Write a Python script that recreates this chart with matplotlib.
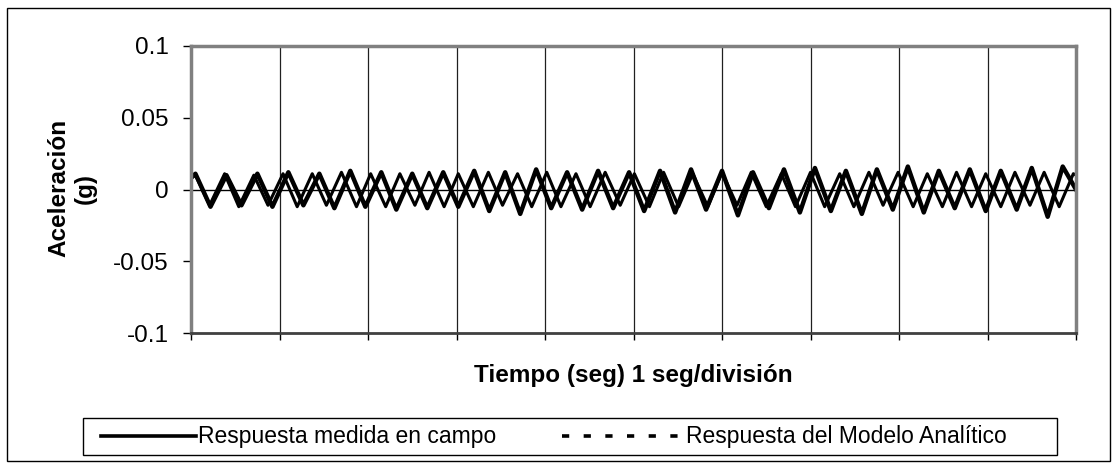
import numpy as np
import matplotlib.pyplot as plt
from matplotlib.lines import Line2D
from matplotlib.patches import Rectangle

plt.rcParams['font.family'] = ['Liberation Sans', 'DejaVu Sans']

# medida en campo: extremos (tiempo en s, aceleracion en g)
t_campo = [0.00, 0.05, 0.22, 0.40, 0.57, 0.75, 0.92, 1.10, 1.27, 1.45, 1.62, 1.80, 1.97,
           2.15, 2.32, 2.50, 2.67, 2.85, 3.02, 3.20, 3.37, 3.55, 3.72, 3.90, 4.07, 4.25,
           4.42, 4.60, 4.77, 4.95, 5.12, 5.30, 5.47, 5.65, 5.82, 6.00, 6.18, 6.35, 6.53,
           6.70, 6.88, 7.05, 7.23, 7.40, 7.58, 7.75, 7.93, 8.10, 8.28, 8.45, 8.63, 8.80,
           8.98, 9.15, 9.33, 9.50, 9.68, 9.85, 10.00]
a_campo = [0.008, 0.011, -0.012, 0.010, -0.011, 0.011, -0.012, 0.012, -0.011, 0.011, -0.013,
           0.013, -0.012, 0.012, -0.014, 0.011, -0.013, 0.012, -0.012, 0.013, -0.015,
           0.012, -0.017, 0.014, -0.013, 0.012, -0.014, 0.013, -0.013, 0.012, -0.015,
           0.013, -0.016, 0.014, -0.014, 0.013, -0.018, 0.012, -0.013, 0.014, -0.016,
           0.015, -0.015, 0.013, -0.017, 0.014, -0.014, 0.016, -0.016, 0.013, -0.013,
           0.014, -0.015, 0.013, -0.014, 0.015, -0.019, 0.016, 0.000]

# modelo analitico
t_modelo = [0.00, 0.05, 0.21, 0.38, 0.54, 0.71, 0.87, 1.04, 1.20, 1.37, 1.53, 1.70, 1.87,
            2.03, 2.20, 2.36, 2.53, 2.69, 2.86, 3.02, 3.19, 3.36, 3.52, 3.69, 3.85, 4.02,
            4.18, 4.35, 4.51, 4.68, 4.85, 5.01, 5.18, 5.34, 5.51, 5.67, 5.84, 6.00, 6.17,
            6.33, 6.50, 6.67, 6.83, 7.00, 7.16, 7.33, 7.49, 7.66, 7.82, 7.99, 8.16, 8.32,
            8.49, 8.65, 8.82, 8.98, 9.15, 9.31, 9.48, 9.64, 9.81, 9.97, 10.00]
a_modelo = [0.008, 0.010, -0.011, 0.011, -0.012, 0.010, -0.011, 0.011, -0.012, 0.011,
            -0.011, 0.012, -0.012, 0.011, -0.012, 0.011, -0.011, 0.012, -0.012, 0.011,
            -0.012, 0.012, -0.011, 0.011, -0.012, 0.012, -0.012, 0.011, -0.012, 0.012,
            -0.011, 0.011, -0.012, 0.012, -0.012, 0.011, -0.012, 0.012, -0.011, 0.012,
            -0.012, 0.011, -0.012, 0.012, -0.012, 0.011, -0.012, 0.012, -0.011, 0.012,
            -0.012, 0.011, -0.012, 0.012, -0.012, 0.011, -0.012, 0.012, -0.011, 0.012,
            -0.012, 0.011, 0.010]

yticks = [-0.1, -0.05, 0, 0.05, 0.1]
ytick_labels = ['-0.1', '-0.05', '0', '0.05', '0.1']
xticks = list(range(0, 11))

fig = plt.figure(figsize=(11.19, 4.68), dpi=100)
ax = fig.add_axes([191/1119, 1-333/468, 885/1119, 287/468])

ax.plot(t_modelo, a_modelo, color='black', lw=2.2, solid_joinstyle='round')
ax.plot(t_campo, a_campo, color='black', lw=3.2, solid_joinstyle='round')
ax.axhline(0, color='black', lw=1)

ax.set_xlim(0, 10)
ax.set_ylim(-0.1, 0.1)
ax.set_xticks(xticks)
ax.set_xticklabels([])
ax.set_yticks(yticks)
ax.set_yticklabels(ytick_labels)
ax.grid(axis='x', color='#202020', lw=0.9)
ax.tick_params(axis='y', direction='out', length=6, width=1, labelsize=17.5, pad=10)
ax.tick_params(axis='x', direction='out', length=5, width=1)
for s in ['left', 'right', 'top']:
    ax.spines[s].set_color('#808080')
    ax.spines[s].set_linewidth(2.5)
ax.spines['bottom'].set_color('#404040')
ax.spines['bottom'].set_linewidth(2)

ax.set_xlabel('Tiempo (seg) 1 seg/división', fontsize=17.5, fontweight='bold', labelpad=14)
fig.text(72/1119, 1-188/468, 'Aceleración\n(g)', rotation=90, ha='center', va='center',
         fontsize=17.5, fontweight='bold', multialignment='center', linespacing=1.2)

# leyenda
fig.add_artist(Rectangle((83/1119, 1-455/468), (1057-83)/1119, 37/468,
                         transform=fig.transFigure, fill=False, ec='black', lw=1))
ly = 1-436/468
fig.add_artist(Line2D([101/1119, 196/1119], [ly, ly], transform=fig.transFigure,
                      color='black', lw=2.6))
fig.text(198/1119, ly, 'Respuesta medida en campo', va='center', fontsize=16.5)
fig.add_artist(Line2D([562/1119, 683/1119], [ly, ly], transform=fig.transFigure,
                      color='black', lw=2.6, ls=(0, (2.0, 4.0))))
fig.text(686/1119, ly, 'Respuesta del Modelo Analítico', va='center', fontsize=16.5)

# marco exterior
fig.add_artist(Rectangle((7/1119, 1-461/468), (1110-7)/1119, (461-8)/468,
                         transform=fig.transFigure, fill=False, ec='black', lw=1))

fig.savefig('out.png', dpi=100)
